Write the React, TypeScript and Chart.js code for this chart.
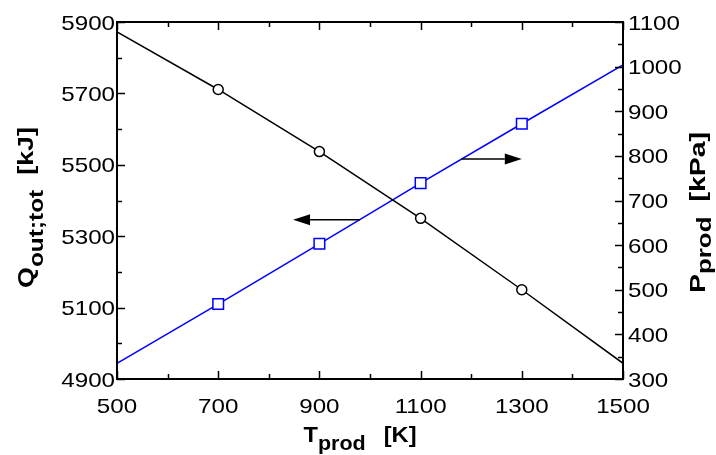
import React, { useEffect, useRef } from 'react';
import { Chart, registerables } from 'chart.js';

Chart.register(...registerables);

// ---- data ----
const temps = [500, 700, 900, 1100, 1300, 1500];
const qOutTot = [5872, 5711, 5537, 5350, 5150, 4944];
const pProd = [335, 468, 603, 739, 872, 1004];

// tick labels
const xTickLabels = [500, 700, 900, 1100, 1300, 1500];
const leftTickLabels = [4900, 5100, 5300, 5500, 5700, 5900];
const rightTickLabels = [300, 400, 500, 600, 700, 800, 900, 1000, 1100];

// arrows (T from, T to, P level on right axis)
const arrowFromT = [980, 1181];
const arrowToT = [848, 1300];
const arrowP = [657, 793];

const FONT = '"Liberation Sans", Arial, Helvetica, sans-serif';

function midpoints(a: number[]) {
  const out: number[] = [];
  for (let i = 0; i < a.length - 1; i++) out.push((a[i] + a[i + 1]) / 2);
  return out;
}

function stretchedText(ctx: CanvasRenderingContext2D, text: string, x: number, y: number, align: string, sx: number) {
  const w = ctx.measureText(text).width * sx;
  const x0 = align === 'left' ? x : align === 'right' ? x - w : x - w / 2;
  ctx.save();
  ctx.translate(x0, y);
  ctx.scale(sx, 1);
  ctx.textAlign = 'left';
  ctx.fillText(text, 0, 0);
  ctx.restore();
}

type Part = { text: string; dy: number; size: number; gapBefore?: number };

// draws a rich title whose total length along the reading direction equals targetLen
function drawTitle(ctx: CanvasRenderingContext2D, parts: Part[], cx: number, cy: number, rot: number, targetLen: number) {
  ctx.save();
  let natural = 0;
  let gaps = 0;
  const widths = parts.map(p => {
    ctx.font = 'bold ' + p.size + 'px ' + FONT;
    const w = ctx.measureText(p.text).width;
    natural += w;
    gaps += p.gapBefore || 0;
    return w;
  });
  const sx = (targetLen - gaps) / natural;
  ctx.translate(cx, cy);
  ctx.rotate(rot);
  ctx.textAlign = 'left';
  ctx.textBaseline = 'alphabetic';
  ctx.fillStyle = '#000';
  let x = -targetLen / 2;
  parts.forEach((p, i) => {
    x += p.gapBefore || 0;
    ctx.save();
    ctx.font = 'bold ' + p.size + 'px ' + FONT;
    ctx.translate(x, p.dy);
    ctx.scale(sx, 1);
    ctx.fillText(p.text, 0, 0);
    ctx.restore();
    x += widths[i] * sx;
  });
  ctx.restore();
}

const decorPlugin = {
  id: 'decor',
  afterDatasetsDraw(chart: any) {
    const ctx: CanvasRenderingContext2D = chart.ctx;
    const xs = chart.scales.x;
    const y2 = chart.scales.y2;
    ctx.save();
    ctx.strokeStyle = '#000';
    ctx.fillStyle = '#000';
    ctx.lineWidth = 1.5;
    for (let i = 0; i < arrowFromT.length; i++) {
      const x0 = xs.getPixelForValue(arrowFromT[i]);
      const x1 = xs.getPixelForValue(arrowToT[i]);
      const y = y2.getPixelForValue(arrowP[i]);
      const dir = Math.sign(x1 - x0);
      const headLen = 17;
      const headHalf = 5.5;
      ctx.beginPath();
      ctx.moveTo(x0, y);
      ctx.lineTo(x1 - dir * headLen, y);
      ctx.stroke();
      ctx.beginPath();
      ctx.moveTo(x1, y);
      ctx.lineTo(x1 - dir * headLen, y - headHalf);
      ctx.lineTo(x1 - dir * headLen, y + headHalf);
      ctx.closePath();
      ctx.fill();
    }
    ctx.restore();
  },
  afterDraw(chart: any) {
    const ctx: CanvasRenderingContext2D = chart.ctx;
    const a = chart.chartArea;
    const xs = chart.scales.x;
    const ys = chart.scales.y;
    const y2 = chart.scales.y2;
    ctx.save();
    // frame
    ctx.strokeStyle = '#000';
    ctx.lineWidth = 2;
    ctx.strokeRect(a.left, a.top, a.right - a.left, a.bottom - a.top);
    // ticks
    ctx.lineWidth = 1.5;
    const major = 8, minor = 5;
    const tickX = (vals: number[], len: number) => {
      vals.forEach(v => {
        const px = Math.round(xs.getPixelForValue(v)) + 0.5;
        ctx.beginPath();
        ctx.moveTo(px, a.bottom); ctx.lineTo(px, a.bottom - len);
        ctx.moveTo(px, a.top); ctx.lineTo(px, a.top + len);
        ctx.stroke();
      });
    };
    tickX(xTickLabels, major);
    tickX(midpoints(xTickLabels), minor);
    const tickL = (vals: number[], len: number) => {
      vals.forEach(v => {
        const py = Math.round(ys.getPixelForValue(v)) + 0.5;
        ctx.beginPath();
        ctx.moveTo(a.left, py); ctx.lineTo(a.left + len, py);
        ctx.stroke();
      });
    };
    tickL(leftTickLabels, major);
    tickL(midpoints(leftTickLabels), minor);
    const tickR = (vals: number[], len: number) => {
      vals.forEach(v => {
        const py = Math.round(y2.getPixelForValue(v)) + 0.5;
        ctx.beginPath();
        ctx.moveTo(a.right, py); ctx.lineTo(a.right - len, py);
        ctx.stroke();
      });
    };
    tickR(rightTickLabels, major);
    tickR(midpoints(rightTickLabels), minor);

    // tick labels
    ctx.fillStyle = '#000';
    ctx.font = '21px ' + FONT;
    ctx.textBaseline = 'alphabetic';
    const sx = 1.15;
    xs.ticks.forEach((t: any) => {
      stretchedText(ctx, String(t.value), xs.getPixelForValue(t.value), a.bottom + 34, 'center', sx);
    });
    ys.ticks.forEach((t: any) => {
      stretchedText(ctx, String(t.value), a.left - 2, ys.getPixelForValue(t.value) + 7.5, 'right', sx);
    });
    y2.ticks.forEach((t: any) => {
      stretchedText(ctx, String(t.value), a.right + 5, y2.getPixelForValue(t.value) + 7.5, 'left', sx);
    });

    // axis titles
    drawTitle(ctx, [
      { text: 'T', dy: 0, size: 22 },
      { text: 'prod', dy: 8, size: 20 },
      { text: '[K]', dy: 0, size: 22, gapBefore: 18 },
    ], 360, a.bottom + 63, 0, 113);
    drawTitle(ctx, [
      { text: 'Q', dy: 0, size: 22 },
      { text: 'out;tot', dy: 10, size: 20 },
      { text: '[kJ]', dy: 0, size: 22, gapBefore: 15 },
    ], 33, 207.5, -Math.PI / 2, 161);
    drawTitle(ctx, [
      { text: 'P', dy: 0, size: 22 },
      { text: 'prod', dy: 6, size: 20 },
      { text: '[kPa]', dy: 0, size: 22, gapBefore: 15 },
    ], 705, 212.5, -Math.PI / 2, 161);
    ctx.restore();
  },
};

export default function App() {
  const ref = useRef<HTMLCanvasElement | null>(null);
  useEffect(() => {
    if (!ref.current) return;
    const last = temps.length - 1;
    const inner = (r: number) => (c: any) => (c.dataIndex === 0 || c.dataIndex === last ? 0 : r);
    const chart = new Chart(ref.current, {
      type: 'line',
      data: {
        datasets: [
          {
            label: 'Qout;tot [kJ]',
            data: temps.map((t, i) => ({ x: t, y: qOutTot[i] })),
            yAxisID: 'y',
            borderColor: '#000000',
            borderWidth: 1.5,
            pointStyle: 'circle',
            pointRadius: inner(5),
            pointBackgroundColor: '#ffffff',
            pointBorderColor: '#000000',
            pointBorderWidth: 1.5,
            tension: 0,
          },
          {
            label: 'Pprod [kPa]',
            data: temps.map((t, i) => ({ x: t, y: pProd[i] })),
            yAxisID: 'y2',
            borderColor: '#0000ff',
            borderWidth: 1.5,
            pointStyle: 'rect',
            pointRadius: inner(7.5),
            pointBackgroundColor: '#ffffff',
            pointBorderColor: '#0000ff',
            pointBorderWidth: 1.5,
            tension: 0,
          },
        ],
      },
      options: {
        responsive: false,
        animation: false,
        events: [],
        layout: { padding: { top: 22, left: 0, right: 0, bottom: 0 } },
        plugins: { legend: { display: false }, tooltip: { enabled: false } },
        scales: {
          x: {
            type: 'linear', position: 'bottom', min: 500, max: 1500,
            afterBuildTicks: (s: any) => { s.ticks = xTickLabels.map(v => ({ value: v })); },
            ticks: { display: false },
            grid: { display: false, drawTicks: false },
            border: { display: false },
            afterFit: (s: any) => { s.height = 76; },
          },
          y: {
            type: 'linear', position: 'left', min: 4900, max: 5900,
            afterBuildTicks: (s: any) => { s.ticks = leftTickLabels.map(v => ({ value: v })); },
            ticks: { display: false },
            grid: { display: false, drawTicks: false },
            border: { display: false },
            afterFit: (s: any) => { s.width = 117; },
          },
          y2: {
            type: 'linear', position: 'right', min: 300, max: 1100,
            afterBuildTicks: (s: any) => { s.ticks = rightTickLabels.map(v => ({ value: v })); },
            ticks: { display: false },
            grid: { display: false, drawTicks: false },
            border: { display: false },
            afterFit: (s: any) => { s.width = 93; },
          },
        },
      },
      plugins: [decorPlugin],
    } as any);
    return () => chart.destroy();
  }, []);
  return (
    <div style={{ position: 'absolute', left: 0, top: 0, width: 716, height: 455, background: '#fff' }}>
      <canvas ref={ref} width={716} height={455} style={{ width: 716, height: 455, display: 'block' }} />
    </div>
  );
}
